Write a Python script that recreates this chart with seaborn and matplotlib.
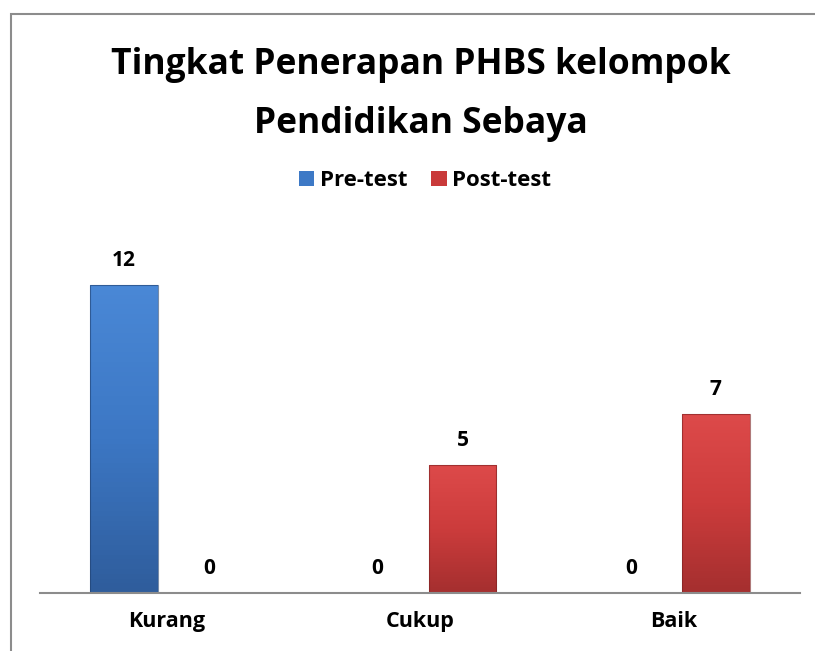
import numpy as np
import pandas as pd
import matplotlib
matplotlib.use("Agg")
import matplotlib.pyplot as plt
from matplotlib.colors import LinearSegmentedColormap
from matplotlib.patches import Rectangle
import seaborn as sns

# data
categories = ["Kurang", "Cukup", "Baik"]
pre_test = [12, 0, 0]
post_test = [0, 5, 7]
series = ["Pre-test", "Post-test"]

df = pd.DataFrame({
    "Kategori": categories * 2,
    "Jumlah": pre_test + post_test,
    "Tes": [series[0]] * 3 + [series[1]] * 3,
})

sns.set_theme(style="white")
plt.rcParams["font.family"] = ["Open Sans", "DejaVu Sans"]
plt.rcParams["text.color"] = "black"
W = "bold"

fig = plt.figure(figsize=(8.15, 6.51), dpi=100)
ax = fig.add_axes([40 / 815, 58 / 651, 760 / 815, 359 / 651])

colors = {"Pre-test": "#3d79c6", "Post-test": "#c93a3a"}
sns.barplot(data=df, x="Kategori", y="Jumlah", hue="Tes", palette=colors,
            width=0.672, gap=0.21, ax=ax, edgecolor="none", saturation=1)

# soft gradient on each bar, like the office bevel style
grads = {
    0: LinearSegmentedColormap.from_list("b", ["#2f5d9c", "#3c77c4", "#4a88d6"]),
    1: LinearSegmentedColormap.from_list("r", ["#a52f2f", "#cc3c3c", "#dd4a4a"]),
}
g = np.linspace(0, 1, 64).reshape(-1, 1)
for i, cont in enumerate(ax.containers):
    for p in cont.patches:
        h = p.get_height()
        if h <= 0:
            continue
        x0, w = p.get_x(), p.get_width()
        im = ax.imshow(g, cmap=grads[i], extent=[x0, x0 + w, 0, h],
                       origin="lower", aspect="auto", zorder=p.get_zorder())
        im.set_clip_path(p)
        ax.add_patch(Rectangle((x0, 0), w, h, fill=False,
                               edgecolor="#1f3f6e" if i == 0 else "#7a2020",
                               linewidth=0.8, alpha=0.6, zorder=p.get_zorder() + 1))
ax.set_xlim(-0.5, 2.5)
ax.set_ylim(0, 14)

for cont in ax.containers:
    ax.bar_label(cont, fmt="%d", padding=10, fontsize=15, fontweight=W,
                 color="black")

sns.despine(ax=ax, left=True)
ax.spines["bottom"].set_color("#8c8c8c")
ax.spines["bottom"].set_linewidth(1.5)
ax.set_yticks([])
ax.set_xlabel("")
ax.set_ylabel("")
ax.tick_params(axis="x", length=0, pad=13, labelsize=15.5, labelcolor="black")
for lab in ax.get_xticklabels():
    lab.set_fontweight(W)

sns.move_legend(ax, "center", bbox_to_anchor=(0.5215, 0.722),
                bbox_transform=fig.transFigure, ncol=2, frameon=False,
                title=None, fontsize=16, handlelength=0.68, handleheight=0.68,
                handletextpad=0.25, columnspacing=1.1)
for t in ax.get_legend().get_texts():
    t.set_fontweight(W)
    t.set_color("black")

# two title lines, placed on their baselines
fig.text(0.5165, 1 - 74 / 651, "Tingkat Penerapan PHBS kelompok",
         ha="center", va="baseline", fontsize=25.5, fontweight=W, color="black")
fig.text(0.5165, 1 - 133 / 651, "Pendidikan Sebaya",
         ha="center", va="baseline", fontsize=25.5, fontweight=W, color="black")

# chart border (runs off the right and bottom edges)
fig.patches.append(Rectangle((11 / 815, -0.1), 1.2, 0.1 + (651 - 14) / 651,
                             transform=fig.transFigure, fill=False,
                             edgecolor="#8c8c8c", linewidth=1.5))

fig.savefig("out.png", dpi=100)
